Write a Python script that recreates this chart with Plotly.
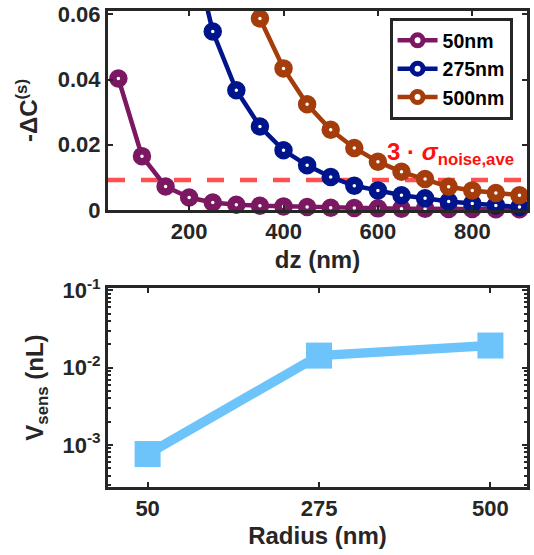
import plotly.graph_objects as go

# ---------------- data ----------------
dz = [50, 100, 150, 200, 250, 300, 350, 400, 450, 500, 550, 600, 650, 700, 750, 800, 850, 900]
dc_50 = [0.0403, 0.0165, 0.0072, 0.0038, 0.0023, 0.0016, 0.0013, 0.0011, 0.0009, 0.0007,
         0.0006, 0.0005, 0.0004, 0.0004, 0.0003, 0.0003, 0.0002, 0.0002]
dz_275 = [200, 250, 300, 350, 400, 450, 500, 550, 600, 650, 700, 750, 800, 850, 900]
dc_275 = [0.0855, 0.0547, 0.0367, 0.0256, 0.0183, 0.0137, 0.0101, 0.0074, 0.0060, 0.0045,
          0.0036, 0.0026, 0.0020, 0.0014, 0.0009]
dz_500 = [350, 400, 450, 500, 550, 600, 650, 700, 750, 800, 850, 900]
dc_500 = [0.0587, 0.0434, 0.0324, 0.0246, 0.0190, 0.0148, 0.0117, 0.0095, 0.0071, 0.0060,
          0.0052, 0.0045]
threshold = [0.0092]
series_names = ["50nm", "275nm", "500nm"]

radius = [50, 275, 500]
v_sens = [7.6e-4, 0.0143, 0.0193]

top_xticks = [200, 400, 600, 800]
top_yticks = [0, 0.02, 0.04, 0.06]
top_yticklabels = ["0", "0.02", "0.04", "0.06"]
bot_yticks = [1e-3, 1e-2, 1e-1]
bot_yticklabels = ["10<sup>-3</sup>", "10<sup>-2</sup>", "10<sup>-1</sup>"]
bot_minor = [m * 10.0 ** e for e in (-4, -3, -2) for m in range(2, 10)]

# ---------------- style ----------------
FONT = "Liberation Sans, Arial, sans-serif"
DARK = "#262626"
colors = ["#7C1862", "#00148C", "#A43C0B"]
BLUE = "#6CC4FA"

fig = go.Figure()

for name, xs, ys, c in [
    (series_names[0], dz, dc_50, colors[0]),
    (series_names[1], dz_275, dc_275, colors[1]),
    (series_names[2], dz_500, dc_500, colors[2]),
]:
    fig.add_trace(go.Scatter(
        x=xs, y=ys, name=name, mode="lines+markers",
        line=dict(color=c, width=4.5),
        marker=dict(symbol="circle", size=11, color="white",
                    line=dict(color=c, width=7.5)),
        cliponaxis=False, xaxis="x", yaxis="y",
    ))

fig.add_trace(go.Scatter(
    x=radius, y=v_sens, mode="lines+markers", showlegend=False,
    line=dict(color=BLUE, width=9.5),
    marker=dict(symbol="square", size=26, color=BLUE, line=dict(width=0)),
    cliponaxis=False, xaxis="x2", yaxis="y2",
))

fig.add_shape(type="line", xref="x domain", yref="y", x0=0, x1=1,
              y0=threshold[0], y1=threshold[0],
              line=dict(color="rgba(255,60,60,0.9)", width=4.5, dash="17px,16px"),
              layer="below")

fig.add_annotation(
    xref="paper", yref="paper", x=0.662, y=0.700, xanchor="left", yanchor="middle",
    text="3 · <i>σ</i><sub>noise,ave</sub>", showarrow=False,
    font=dict(family=FONT, size=24, color="#FF1010", weight="bold"),
)

axis_common = dict(
    showline=True, linewidth=3, linecolor=DARK, mirror="ticks",
    ticks="inside", ticklen=5, tickwidth=2, tickcolor=DARK,
    showgrid=False, zeroline=False, automargin=False,
    tickfont=dict(family=FONT, size=22, color=DARK, weight="bold"),
)
title_font = dict(family=FONT, size=24, color=DARK, weight="bold")

fig.update_layout(
    width=534, height=555,
    margin=dict(l=108, r=7, t=11, b=68),
    paper_bgcolor="white", plot_bgcolor="white",
    showlegend=True,
    legend=dict(
        x=0.672, y=0.985, xanchor="left", yanchor="top",
        bgcolor="white", bordercolor=DARK, borderwidth=3,
        font=dict(family=FONT, size=19.5, color="black", weight="bold"),
        tracegroupgap=0, itemwidth=40,
    ),
    xaxis=dict(domain=[0, 1], anchor="y", range=[28, 916],
               tickvals=top_xticks,
               title=dict(text="dz (nm)", font=title_font, standoff=8),
               **axis_common),
    yaxis=dict(domain=[0.582, 1], anchor="x", range=[0, 0.061],
               tickvals=top_yticks, ticktext=top_yticklabels,
               title=dict(text="-ΔC<sup>(s)</sup>", font=title_font, standoff=14),
               **axis_common),
    xaxis2=dict(domain=[0, 1], anchor="y2", range=[-2, 548],
                tickvals=radius,
                title=dict(text="Radius (nm)", font=title_font, standoff=7),
                **axis_common),
    yaxis2=dict(domain=[0, 0.418], anchor="x2", type="log", range=[-3.546, -0.97],
                tickvals=bot_yticks, ticktext=bot_yticklabels,
                minor=dict(tickvals=bot_minor, ticks="inside", ticklen=3,
                           tickwidth=1.5, tickcolor=DARK, showgrid=False),
                title=dict(text="V<sub>sens</sub> (nL)", font=title_font, standoff=13),
                **axis_common),
)

fig.write_html("out.html", config={"displayModeBar": False},
               post_script="document.body.style.margin='0px';")
